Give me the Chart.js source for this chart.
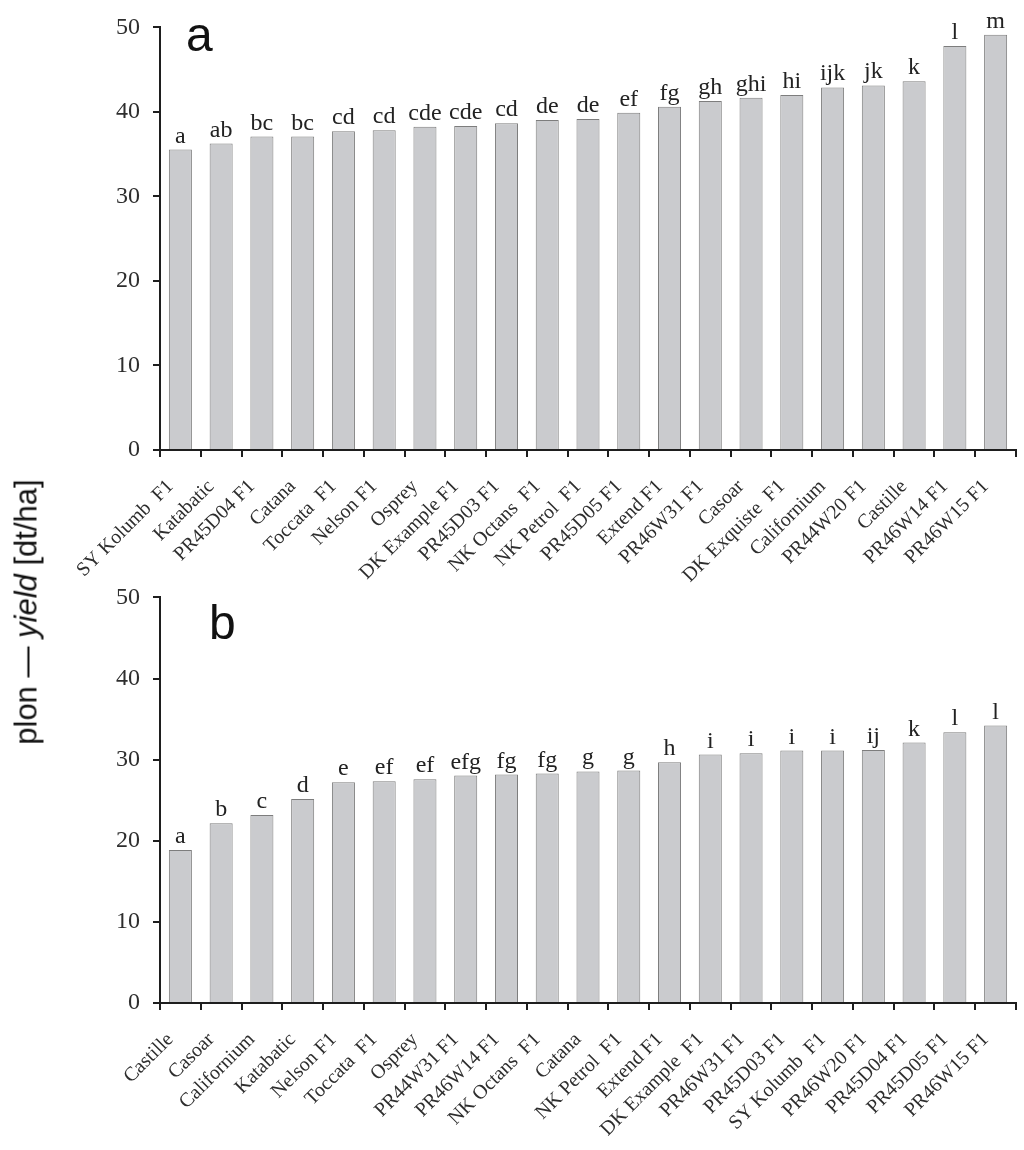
<!DOCTYPE html>
<html>
<head>
<meta charset="utf-8">
<script src="https://cdn.jsdelivr.net/npm/chart.js@4"></script>
<style>
  html, body { margin: 0; padding: 0; background: #fff; }
  #wrap { position: relative; width: 1024px; height: 1150px; overflow: hidden; }
  canvas { position: absolute; left: 0; }
  .panel { position: absolute; font-family: 'Liberation Sans', Arial, sans-serif; font-size: 48px; line-height: 1; color: #111; }
  #ytitle { position: absolute; left: 26px; top: 612px; transform: translate(-50%, -50%) rotate(-90deg);
            white-space: pre; font-family: 'Liberation Sans', Arial, sans-serif; font-size: 31px; line-height: 1; color: #111; }
</style>
</head>
<body>
<div id="wrap">
  <canvas id="chartA" width="1024" height="600" style="top:0px;width:1024px;height:600px"></canvas>
  <canvas id="chartB" width="1024" height="580" style="top:570px;width:1024px;height:580px"></canvas>
  <div class="panel" style="left:186px;top:11px">a</div>
  <div class="panel" style="left:209px;top:599px">b</div>
  <div id="ytitle">plon — <i>yield</i> [dt/ha]</div>
</div>
<script>
// ---- data ----
const categoriesA = ["SY Kolumb  F1", "Katabatic", "PR45D04 F1", "Catana", "Toccata  F1", "Nelson F1", "Osprey",
  "DK Example F1", "PR45D03 F1", "NK Octans  F1", "NK Petrol  F1", "PR45D05 F1", "Extend F1", "PR46W31 F1",
  "Casoar", "DK Exquiste  F1", "Californium", "PR44W20 F1", "Castille", "PR46W14 F1", "PR46W15 F1"];
const yieldA = [35.55, 36.26, 37.08, 37.08, 37.71, 37.83, 38.26, 38.34, 38.66, 39.05, 39.16,
  39.9, 40.6, 41.28, 41.68, 42.0, 42.9, 43.13, 43.64, 47.8, 49.14];
const lettersA = ["a", "ab", "bc", "bc", "cd", "cd", "cde", "cde", "cd", "de", "de",
  "ef", "fg", "gh", "ghi", "hi", "ijk", "jk", "k", "l", "m"];

const categoriesB = ["Castille", "Casoar", "Californium", "Katabatic", "Nelson F1", "Toccata  F1", "Osprey",
  "PR44W31 F1", "PR46W14 F1", "NK Octans  F1", "Catana", "NK Petrol  F1", "Extend F1", "DK Example  F1",
  "PR46W31 F1", "PR45D03 F1", "SY Kolumb  F1", "PR46W20 F1", "PR45D04 F1", "PR45D05 F1", "PR46W15 F1"];
const yieldB = [18.87, 22.16, 23.18, 25.16, 27.21, 27.34, 27.58, 28.04, 28.16, 28.28, 28.55,
  28.65, 29.68, 30.62, 30.79, 31.12, 31.12, 31.2, 32.11, 33.38, 34.2];
const lettersB = ["a", "b", "c", "d", "e", "ef", "ef", "efg", "fg", "fg", "g",
  "g", "h", "i", "i", "i", "i", "ij", "k", "l", "l"];

const yMin = 0, yMax = 50, yStep = 10;

// ---- chart building ----
const SERIF = "'Liberation Serif', 'Times New Roman', serif";
const AXIS = '#1e1e1e';
const TXT = '#2e2e2e';

function letterPlugin(letters, gap) {
  return {
    id: 'sigLetters',
    afterDatasetsDraw(chart) {
      const meta = chart.getDatasetMeta(0);
      const ctx = chart.ctx;
      ctx.save();
      ctx.font = '24px ' + SERIF;
      ctx.fillStyle = '#222';
      ctx.textAlign = 'center';
      ctx.textBaseline = 'alphabetic';
      meta.data.forEach((bar, i) => ctx.fillText(letters[i], bar.x, bar.y - gap));
      ctx.restore();
    }
  };
}

function makeChart(id, cats, vals, letters, padTop, xHeight) {
  return new Chart(document.getElementById(id), {
    type: 'bar',
    data: {
      labels: cats,
      datasets: [{
        data: vals,
        backgroundColor: '#cacbce',
        borderColor: '#7d7d7d',
        borderWidth: 1,
        barPercentage: 0.565,
        categoryPercentage: 1.0
      }]
    },
    options: {
      responsive: false,
      animation: false,
      devicePixelRatio: 1,
      layout: { padding: { top: padTop, right: 8, left: 0, bottom: 0 } },
      plugins: { legend: { display: false }, tooltip: { enabled: false } },
      scales: {
        x: {
          type: 'category',
          offset: true,
          grid: { offset: true, drawOnChartArea: false, drawTicks: true, tickLength: 7, color: AXIS, lineWidth: 2 },
          border: { display: true, color: AXIS, width: 2 },
          ticks: { autoSkip: false, maxRotation: 45, minRotation: 45, padding: 18, labelOffset: -10,
                   font: { family: SERIF, size: 20 }, color: TXT },
          afterFit: (s) => { s.height = xHeight; s.paddingRight = 0; s.paddingLeft = 0; }
        },
        y: {
          min: yMin, max: yMax,
          grid: { drawOnChartArea: false, drawTicks: true, tickLength: 7, color: AXIS, lineWidth: 2 },
          border: { display: true, color: AXIS, width: 2 },
          ticks: { stepSize: yStep, padding: 13, font: { family: SERIF, size: 24 }, color: TXT },
          afterFit: (s) => { s.width = 160; }
        }
      }
    },
    plugins: [letterPlugin(letters, 7)]
  });
}

makeChart('chartA', categoriesA, yieldA, lettersA, 25, 150);
makeChart('chartB', categoriesB, yieldB, lettersB, 27, 147);
</script>
</body>
</html>
